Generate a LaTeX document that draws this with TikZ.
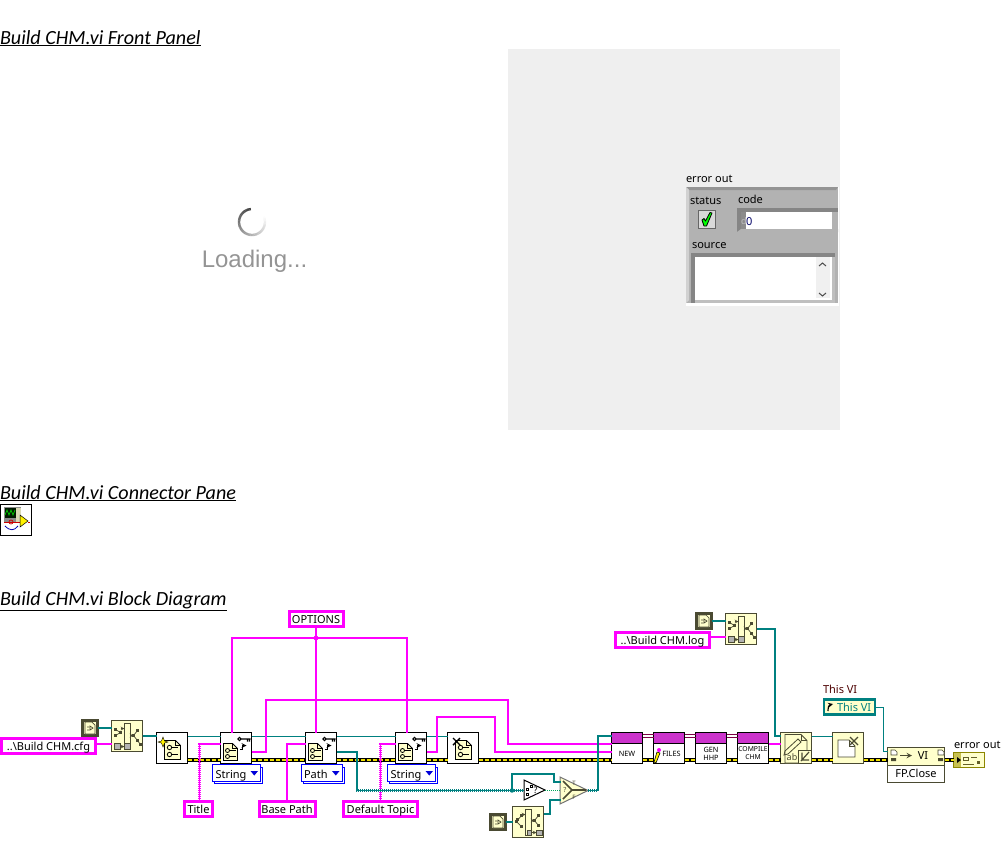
\documentclass[tikz,border=0pt]{standalone}
\usepackage{fontspec}
\setmainfont{Noto Sans}
\newfontfamily\headfont{Carlito}
\newfontfamily\loadfont{Liberation Sans}
\usetikzlibrary{calc}
\definecolor{wpink}{HTML}{FF00FF}
\definecolor{wteal}{HTML}{008080}
\definecolor{ycream}{HTML}{FFFFCC}
\definecolor{dolive}{HTML}{4A4A32}
\definecolor{errY}{HTML}{F0E000}
\definecolor{panelg}{HTML}{EFEFEF}
\definecolor{clg}{HTML}{B2B2B2}
\tikzset{
 x=1pt,y=-1pt,
 head/.style={anchor=base west,inner sep=0,outer sep=0,font=\headfont\itshape\fontsize{20.1}{22}\selectfont},
 lab/.style={inner sep=0,outer sep=0,font=\fontsize{11}{13}\selectfont},
 pinkbox/.style={draw=wpink,line width=3pt,fill=white,inner sep=0,outer sep=0,text height=10,text depth=1,font=\fontsize{11}{13}\selectfont},
 vibox/.style={draw=black,line width=1pt,fill=white,minimum width=31,minimum height=31,inner sep=0,outer sep=0},
 yelbox/.style={draw=dolive,line width=1pt,fill=ycream,minimum width=31,minimum height=31,inner sep=0,outer sep=0},
 pathconst/.style={draw=dolive,line width=2.5pt,fill=ycream,minimum width=15,minimum height=15,inner sep=0,outer sep=0},
 strw/.style={wpink,line width=2.2pt,dash pattern=on 1pt off 1pt,preaction={draw=wpink,solid,line width=1.3pt}},
 pathw/.style={wteal,line width=2.2pt,dash pattern=on 1pt off 1pt,preaction={draw=wteal,solid,line width=1.3pt}},
 refw/.style={wteal,line width=1pt},
 boolw/.style={wteal!70!green,line width=1pt,densely dotted},
 subt/.style={inner sep=0,font=\bfseries\fontsize{7.3}{8}\selectfont,align=center},
 ic/.style={draw=dolive,line width=.7pt},
 icb/.style={draw=black,line width=.8pt},
 pics/docbig/.style={code={
   \draw[icb,fill=ycream] (8,8)--(19,8)--(24,13)--(24,27)--(8,27)--cycle;
   \draw[icb] (19,8)--(19,13)--(24,13);
   \draw[icb] (13,15) circle (2.2) (13,22) circle (2.2);
   \draw[icb] (15.5,15)--(21,15) (15.5,22)--(21,22);
 }},
 pics/docsmall/.style={code={
   \draw[icb,fill=ycream] (3,11)--(12,11)--(17,16)--(17,28)--(3,28)--cycle;
   \draw[icb] (12,11)--(12,16)--(17,16);
   \draw[icb] (7,18) circle (2) (7,24) circle (2);
   \draw[icb] (9.5,18)--(15,18) (9.5,24)--(15,24);
 }},
 pics/keys/.style={code={
   \draw[icb,line width=1.1pt] (19,6.5) circle (1.6) (21,6.5)--(30,6.5) (27,6.5)--(27,9) (29,6.5)--(29,9);
   \draw[icb,line width=1.2pt,-stealth] (19,17)--(22,17)--(22,13)--(26,13);
 }},
 pics/bpath/.style={code={
   \draw[ic,fill=ycream] (13,3) rectangle (19,29);
   \foreach \p in {(4,9),(4,15),(9,12),(26,10),(22,15),(26,20),(29,24)} \fill[dolive] \p ++(-1.3,-1.3) rectangle ++(2.6,2.6);
   \draw[ic] (4,9)--(9,12)--(4,15) (22,15)--(26,10) (22,15)--(26,20)--(29,24);
   \draw[ic,-stealth] (9,8)--(13,8);
   \draw[ic,-stealth] (19,15)--(22,15);
   \draw[ic,fill=gray!60] (3,23) rectangle (9,29);
   \draw[ic,fill=gray!60] (13,23) rectangle (19,29);
   \draw[ic,-stealth] (9,26)--(13,26);
 }},
 pics/bpathb/.style={code={
   \draw[ic,fill=ycream] (13,3) rectangle (19,29);
   \foreach \p in {(4,15),(9,9),(9,20),(26,9),(22,14),(26,19),(5,13)} \fill[dolive] \p ++(-1.3,-1.3) rectangle ++(2.6,2.6);
   \draw[ic] (9,9)--(4,15)--(9,20) (22,14)--(26,9) (22,14)--(26,19);
   \draw[ic,-stealth] (8,8)--(13,8);
   \draw[ic,-stealth] (19,14)--(22,14);
   \draw[ic,fill=gray!60] (15,24) rectangle (19,29);
   \draw[ic,fill=gray!60] (24,24) rectangle (30,29);
   \draw[ic,-stealth] (19,26)--(24,26);
 }},
 pics/pconst/.style={code={
   \draw[ic,fill=ycream] (-5,-6)--(2,-6)--(5,-3)--(5,6)--(-5,6)--cycle;
   \draw[ic] (-3,-1)--(-1,-1) (-3,2)--(-1,2) (0,-2)--(3,0)--(0,2)--cycle;
 }},
}
\begin{document}
\begin{tikzpicture}
\useasboundingbox (0,0) rectangle (1002,863);
\node[head] (h1) at (0,44) {\underline{Build CHM.vi Front Panel}};
\node[head] (h2) at (0,499) {\underline{Build CHM.vi Connector Pane}};
\node[head] (h3) at (0,605) {\underline{Build CHM.vi Block Diagram}};
% loading
\foreach \a in {0,6,...,282}{
  \pgfmathtruncatemacro\gr{75-\a*0.26}
  \draw[black!\gr!white,line width=2.4pt]
    ({252+13*cos(95+\a)},{222-13*sin(95+\a)}) -- ({252+13*cos(102+\a)},{222-13*sin(102+\a)});
}
\node[inner sep=0,text=black!42,font=\loadfont\fontsize{24}{26}\selectfont] (load) at (254.5,261) {Loading...};
% panel
\fill[panelg] (508,49) rectangle (840,430);
\node[lab,anchor=base west] (eo) at (686,182) {error out};
\fill[white] (686,187) rectangle (839,305.5);
\fill[clg] (686,187) rectangle (838,303);
\fill[black!42] (686,187)--(838,187)--(836,190)--(689,190)--cycle;
\fill[black!18] (686,187)--(689,190)--(689,300)--(686,303)--cycle;
\node[lab,anchor=base west] (st) at (690,204) {status};
\node[lab,anchor=base west] (cd) at (738,203) {code};
\node[lab,anchor=base west] (sr) at (692,248) {source};
\draw[black!60,fill=black!15,line width=.8pt] (698,210) rectangle (715,228);
\draw[black,fill=green,line width=.8pt,line join=round] (702,220)--(704,218.5)--(705.5,221)--(710,212.5)--(712,213)--(706.5,226)--(704,226)--cycle;
\fill[black!48] (737,208) rectangle (838,212);
\fill[black!48] (737,208) rectangle (741,232);
\fill[black!30] (737,232)--(741,229)--(838,229)--(838,232)--cycle;
\fill[black!45] (741,212) rectangle (746,229);
\fill[white] (746,212) rectangle (832,229);
\node[lab,anchor=base west,text=black!25] (dd) at (741,224) {\fontsize{9}{10}\selectfont d};
\node[lab,anchor=base west,text=blue!40!black] (zero) at (746,225) {0};
\fill[black!48] (691,253) rectangle (835,257);
\fill[black!48] (691,253) rectangle (695,303);
\fill[black!25] (695,300) rectangle (835,303);
\fill[black!25] (832,257) rectangle (835,303);
\fill[white] (695,257) rectangle (832,300);
\fill[black!6] (816,257) rectangle (830,298);
\draw[black!70,line width=1pt] (819,266)--(822.5,263)--(826,266) (819,293)--(822.5,296)--(826,293);
% connector pane
\node[draw=black,line width=1pt,fill=white,minimum width=31,minimum height=31,inner sep=0,outer sep=0] (cp) at (16,520) {};
\fill[black!45] (3.5,507) rectangle (21,522);
\fill[black!90!green] (5,508) rectangle (16,518);
\draw[green!80!black,line width=.7pt] (5,515)--(7,510)--(9,515)--(11,510)--(13,515)--(15,510);
\fill[ycream!70!gray] (16,508) rectangle (21,522);
\draw[red!80!black,line width=.8pt] (4,522)--(20,522) (28,522)--(30,522);
\draw[blue!70!black,line width=.8pt] (5,526) .. controls (10,531) and (14,531) .. (18,526);
\draw[red!80!black,line width=.7pt] (11,522) circle (2);
\draw[black,fill=yellow,line width=.5pt] (20,515)--(28,521)--(20,527)--cycle;
% block diagram nodes
\node[pinkbox,minimum width=94,minimum height=15] (cfg) at (48.5,745.5) {..\textbackslash Build CHM.cfg};
\node[pathconst] (c1) at (90,728) {};
\pic at (c1.center) {pconst};
\node[yelbox] (bp1) at (127,736) {};
\pic at (bp1.north west) {bpath};
\node[vibox] (new) at (172,748) {};
\pic at (new.north west) {docbig};
\draw[black,fill=yellow,line width=.4pt] (163,737)--(164.5,741)--(168,742)--(164.5,743)--(163,747)--(161.5,743)--(158,742)--(161.5,741)--cycle;
\node[vibox] (g1) at (236,748) {};
\pic at (g1.north west) {docsmall};
\pic at (g1.north west) {keys};
\node[vibox] (g2) at (321,748) {};
\pic at (g2.north west) {docsmall};
\pic at (g2.north west) {keys};
\node[vibox] (g3) at (411,748) {};
\pic at (g3.north west) {docsmall};
\pic at (g3.north west) {keys};
\node[vibox] (del) at (463,748) {};
\pic at (del.north west) {docbig};
\draw[black,line width=1.4pt] (453,738)--(460,745) (460,738)--(453,745);
% rings
\foreach \nm/\t/\cx/\w in {r1/String/236.5/48,r2/Path/321.5/41,r3/String/411.5/48}{
 \fill[white,draw=blue,line width=1pt] ({\cx-\w/2+2},767) rectangle ({\cx+\w/2+2},783.5);
 \node[draw=blue,line width=1pt,fill=white,minimum width=\w,minimum height=16.5,inner sep=0,outer sep=0] (\nm) at (\cx,773) {};
 \node[lab,anchor=base west] (\nm t) at ({\cx-\w/2+3},778) {\t};
 \fill[blue!85!black] ({\cx+\w/2-10},771)--({\cx+\w/2-2.5},771)--({\cx+\w/2-6.2},775.5)--cycle;
}
\node[pinkbox,minimum width=28,minimum height=15] (title) at (198.5,808.5) {Title};
\node[pinkbox,minimum width=56,minimum height=15] (base) at (287,808.5) {Base Path};
\node[pinkbox,minimum width=74,minimum height=15] (deft) at (380.5,808.5) {Default Topic};
\node[pinkbox,minimum width=54,minimum height=15] (opt) at (316,619) {OPTIONS};
\node[pinkbox,minimum width=94,minimum height=15] (logc) at (662.5,639.5) {..\textbackslash Build CHM.log};
\node[pathconst] (c3) at (704,621) {};
\pic at (c3.center) {pconst};
\node[yelbox] (bp3) at (741,629) {};
\pic at (bp3.north west) {bpath};
\node[pathconst] (c2) at (498,822) {};
\pic at (c2.center) {pconst};
\node[yelbox] (bp2) at (528,822) {};
\pic at (bp2.north west) {bpathb};
% not a path
\path[draw=black,line width=1pt,fill=white] (524,780)--(545,790)--(524,800)--cycle;
\draw[black,line width=.7pt] (526.5,788) rectangle ++(2,2) (526.5,793) rectangle ++(2,2) (530,785) rectangle ++(2,2);
\node[inner sep=0,font=\bfseries\fontsize{9}{9}\selectfont] (qm) at (535.5,790) {?};
% select
\path[draw=black!55,line width=1pt,fill=ycream] (560,777)--(588,790.5)--(560,804)--cycle;
\draw[dolive,line width=1.6pt] (563,781)--(572,790)--(563,799) (572,790)--(586,790);
\node[inner sep=0,text=dolive,font=\bfseries\fontsize{7}{7}\selectfont] (qq) at (565,790) {?};
\node[inner sep=0,text=dolive,font=\fontsize{6}{6}\selectfont] (tt) at (574,783) {T};
\node[inner sep=0,text=dolive,font=\fontsize{6}{6}\selectfont] (ff) at (574,797) {F};
\coordinate (sel) at (588,790.5);
\coordinate (selT) at (560,782);
\coordinate (selF) at (560,800);
\coordinate (notin) at (524,790.5);
\coordinate (notout) at (545,790.5);
\coordinate (selQ) at (560,790.5);
% subVIs
\foreach \nm/\cx in {n1/627,n2/669,n3/711,n4/753}{
 \node[vibox] (\nm) at (\cx,748) {};
 \draw[black,line width=1pt,fill={rgb,255:red,204;green,51;blue,204}] ({\cx-15.5},732.5) rectangle ({\cx+15.5},743.5);
}
\node[subt] (n1t) at (627,753.5) {NEW};
\node[subt] (n2t) at (671.5,753.5) {FILES};
\draw[black,fill=yellow,line width=.6pt] (654,762)--(657,752)--(660,753)--(656,763)--cycle;
\fill[wpink] (659,750) circle (2);
\node[subt] (n3t) at (711,753.5) {GEN\\HHP};
\node[subt,font=\bfseries\fontsize{6.8}{8}\selectfont] (n4t) at (753,753.5) {COMPILE\\CHM};
\node[yelbox] (wr) at (796,748) {};
\draw[dolive,line width=.8pt,fill=ycream] (785,734.5)--(801,734.5)--(807,740.5)--(807,763)--(785,763)--cycle;
\draw[dolive,line width=.9pt] (801,734.5)--(801,740.5)--(807,740.5);
\draw[dolive,line width=.8pt] (785,751)--(798,739)--(801,742)--(788,754)--(784,755)--cycle;
\node[inner sep=0,text=dolive,font=\fontsize{9}{9}\selectfont] (abt) at (792,757) {ab};
\draw[dolive,line width=.8pt,fill=ycream] (798,750) rectangle (811.5,763.5);
\draw[dolive,line width=1.2pt] (802,752.5)--(802,760)--(809,760) (809,752)--(801,761);
\node[yelbox] (cl) at (848,748) {};
\draw[dolive,line width=.8pt,fill=white] (838,740)--(849,740)--(855,746)--(855,757)--(838,757)--cycle;
\draw[dolive,line width=1pt] (849,740)--(849,746)--(855,746);
\draw[dolive,line width=1.3pt] (850,737)--(858,745) (858,737)--(850,745);
% This VI
\node[lab,anchor=base west,text=black!70!red] (tvl) at (823,693) {This VI};
\node[draw=wteal,line width=2.5pt,fill=ycream,minimum width=51,minimum height=15,inner sep=0,outer sep=0] (tv) at (849.5,707) {};
\node[lab,anchor=base west,text=wteal] (tvt) at (837,711.5) {This VI};
\draw[black,line width=1.2pt,-stealth] (828,711) .. controls (828,707) and (829,705) .. (833,704);
% property node
\node[draw=dolive,line width=1pt,fill=white,minimum width=57,minimum height=35,inner sep=0,outer sep=0] (fp) at (916,765) {};
\fill[ycream,draw=dolive,line width=1pt] (887.5,747.5) rectangle (944.5,765);
\node[inner sep=0,font=\fontsize{11}{12}\selectfont] (fpt) at (916,773.5) {FP.Close};
\node[inner sep=0,font=\fontsize{11}{12}\selectfont] (vit) at (923,755.5) {VI};
\draw[dolive,line width=1.4pt,-stealth] (900,755.5)--(912,755.5);
\draw[dolive,line width=.7pt,fill=white] (891,750)--(895,750)--(897,752)--(897,755)--(891,755)--cycle (938,750)--(942,750)--(944,752)--(944,755)--(938,755)--cycle;
\fill[dolive] (891,758) rectangle (896,761) (938,758) rectangle (943,761);
% indicator
\node[lab,anchor=base west] (eol) at (954,748) {error out};
\node[draw=olive,line width=1pt,fill=ycream,minimum width=31,minimum height=15,inner sep=0,outer sep=0] (ind) at (969,760) {};
\fill[olive!50!ycream] (954,753) rectangle (961,767);
\fill[black] (957,757)--(961,760)--(957,763)--cycle;
\draw[olive!60!black,line width=1pt] (963,757) rectangle (968,760) (971,757)--(977,757) (963,764)--(974,764);
\fill[olive!60!black] (977,761) rectangle (980,764);
% wires
\draw[strw] ([yshift=1.5pt]cfg.east) -- ([yshift=1.5pt]bp1.west|-cfg.east);
\draw[pathw] (c1.east) -- (bp1.west|-c1.east);
\draw[pathw] (bp1.east) -- (new.west|-bp1.east);
\draw[refw] ([yshift=11.5pt]new.east) -- ([yshift=11.5pt]g1.west);
\draw[refw] ([yshift=11.5pt]g1.east) -- ([yshift=11.5pt]g2.west);
\draw[refw] ([yshift=11.5pt]g2.east) -- ([yshift=11.5pt]g3.west);
\draw[refw] ([yshift=11.5pt]g3.east) -- ([yshift=11.5pt]del.west);
\foreach \a/\b in {new/g1,g1/g2,g2/g3,g3/del,del/n1,n1/n2,n2/n3,n3/n4,n4/wr,wr/cl}{
 \draw[black,line width=3.4pt] ([yshift=-12pt]\a.east) -- ([yshift=-12pt]\b.west);
 \draw[errY,line width=1.6pt,dash pattern=on 4pt off 2pt] ([yshift=-12pt]\a.east) -- ([yshift=-12pt]\b.west);
}
\draw[black,line width=3.4pt] ([yshift=-12pt]cl.east) -- ([yshift=-12pt]cl.east-|fp.west);
\draw[black,line width=3.4pt] (ind.west-|fp.east) -- (ind.west);
\draw[errY,line width=1.6pt,dash pattern=on 4pt off 2pt] ([yshift=-12pt]cl.east) -- ([yshift=-12pt]cl.east-|fp.west);
\draw[errY,line width=1.6pt,dash pattern=on 4pt off 2pt] (ind.west-|fp.east) -- (ind.west);
\draw[strw] (title.north) ++(1,0) |- ([yshift=4pt]g1.west);
\draw[strw] (base.north) |- ([yshift=4pt]g2.west);
\draw[strw] (deft.north) |- ([yshift=4pt]g3.west);
\coordinate (junc) at (316,638);
\draw[strw] (opt.south) -- (opt.south|-g2.north);
\draw[strw] (g1.north) ++(-4,0) |- (junc) -| ([xshift=-4pt]g3.north);
\fill[wpink] (junc) circle (2.4);
\coordinate (a1) at (266,700);
\coordinate (a2) at (508,700);
\draw[strw] ([yshift=-4pt]g1.east) -| (a1) -- (a2) |- ([yshift=4pt]n1.west);
\coordinate (b1) at (437,717);
\coordinate (b2) at (495,717);
\draw[strw] ([yshift=-4pt]g3.east) -| (b1) -- (b2) |- ([yshift=-4pt]n1.west);
\coordinate (p1) at (357,790.5);
\coordinate (jp) at (512,790.5);
\draw[pathw] ([yshift=-4pt]g2.east) -| (p1) -- (notin);
\coordinate (p2) at (512,774);
\coordinate (p3) at (554,774);
\draw[pathw] (jp) -- (p2) -- (p3) |- (selT);
\fill[wteal] (jp) circle (2.2);
\draw[boolw] (notout) -- (selQ);
\draw[pathw] (c2.east) -- (bp2.west|-c2.east);
\coordinate (q1) at (550,814);
\draw[pathw] ([yshift=8pt]bp2.east) -- (q1) |- (selF);
\coordinate (s1) at (598,790.5);
\draw[pathw] (sel) -- (s1) |- ([yshift=12pt]n1.west);
\foreach \a/\b in {n1/n2,n2/n3,n3/n4}{
 \draw[red!65!blue!75!black,line width=1pt] ([yshift=13.5pt]\a.east) -- ([yshift=13.5pt]\b.west);
 \draw[red!65!blue!75!black,line width=1pt] ([yshift=10.5pt]\a.east) -- ([yshift=10.5pt]\b.west);
}
\draw[strw] ([yshift=4pt]n4.east) -- ([yshift=4pt]wr.west);
\draw[pathw] (c3.east) -- (bp3.west|-c3.east);
\draw[strw] ([yshift=2.5pt]logc.east) -- ([yshift=2.5pt]bp3.west|-logc.east);
\coordinate (l1) at (775,629);
\draw[pathw] (bp3.east) -- (l1) |- ([yshift=12pt]wr.west);
\draw[refw] ([yshift=11.5pt]wr.east) -- ([yshift=11.5pt]cl.west);
\coordinate (v1) at (883.5,707.5);
\draw[refw] ([yshift=-.5pt]tv.east) -- (v1) |- ([yshift=13.5pt]fp.west);
\end{tikzpicture}
\end{document}
